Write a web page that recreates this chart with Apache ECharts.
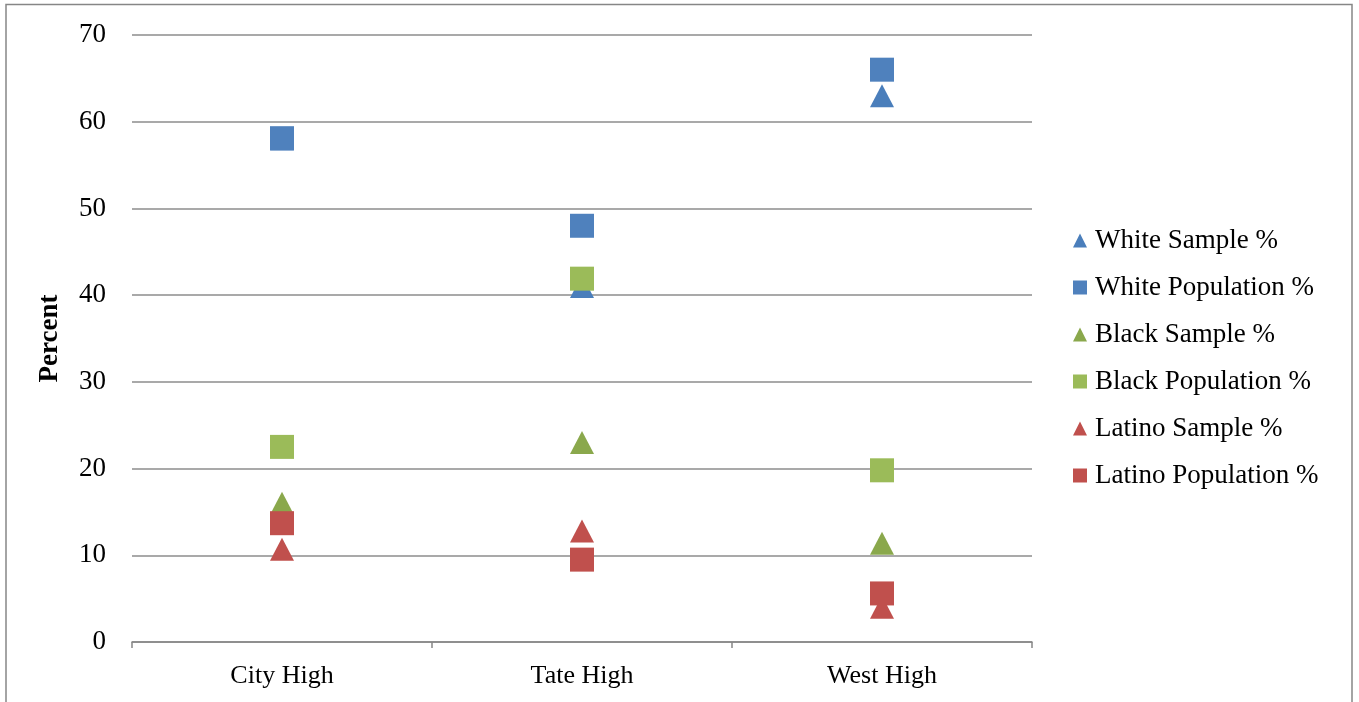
<!DOCTYPE html>
<html>
<head>
<meta charset="utf-8">
<script src="https://cdn.jsdelivr.net/npm/echarts@6/dist/echarts.min.js"></script>
<style>html,body{margin:0;padding:0;background:#fff}#c{width:1359px;height:702px}</style>
</head>
<body>
<div id="c"></div>
<script>
const categories = ['City High', 'Tate High', 'West High'];
const yTicks = [0, 10, 20, 30, 40, 50, 60, 70];
const whiteSample = [58, 41, 63];
const whitePopulation = [58.1, 48, 66];
const blackSample = [16, 23, 11.4];
const blackPopulation = [22.5, 41.9, 19.8];
const latinoSample = [10.7, 12.8, 4];
const latinoPopulation = [13.7, 9.5, 5.6];
const seriesNames = ['White Sample %', 'White Population %', 'Black Sample %', 'Black Population %', 'Latino Sample %', 'Latino Population %'];
const seriesData = [whiteSample, whitePopulation, blackSample, blackPopulation, latinoSample, latinoPopulation];
const seriesColors = ['#4A7EBB', '#4F81BD', '#8AA84C', '#9BBB59', '#C0504D', '#C0504D'];
const seriesSymbols = ['triangle', 'rect', 'triangle', 'rect', 'triangle', 'rect'];

const font = '"Liberation Serif", "Times New Roman", serif';
const chart = echarts.init(document.getElementById('c'), null, {renderer: 'canvas'});
chart.setOption({
  animation: false,
  backgroundColor: '#ffffff',
  graphic: [{
    type: 'rect', silent: true, x: 0, y: 0,
    shape: {x: 6, y: 4.5, width: 1346, height: 720},
    style: {fill: 'none', stroke: '#868686', lineWidth: 1.5}
  }],
  grid: {left: 132, right: 327, top: 35, bottom: 60},
  legend: {
    orient: 'vertical', left: 1068, top: 222,
    itemWidth: 14, itemHeight: 14, itemGap: 20,
    textStyle: {fontFamily: font, fontSize: 27, color: '#000', lineHeight: 27, padding: [0, 0, 0, 3]},
    data: seriesNames.map((n, i) => ({name: n, icon: seriesSymbols[i] === 'rect' ? 'rect' : 'triangle'}))
  },
  xAxis: {
    type: 'category', data: categories, boundaryGap: true,
    axisLine: {lineStyle: {color: '#868686', width: 1.5}},
    axisTick: {show: true, length: 6, lineStyle: {color: '#868686', width: 1.5}},
    axisLabel: {fontFamily: font, fontSize: 26, color: '#000', margin: 21},
    splitLine: {show: false}
  },
  yAxis: {
    type: 'value', min: 0, max: 70, interval: 10,
    name: 'Percent', nameLocation: 'middle', nameGap: 68,
    nameTextStyle: {fontFamily: font, fontSize: 27, fontWeight: 'bold', color: '#000'},
    axisLine: {show: false}, axisTick: {show: false},
    axisLabel: {fontFamily: font, fontSize: 27, color: '#000', margin: 26,
      formatter: v => yTicks.includes(v) ? String(v) : ''},
    splitLine: {lineStyle: {color: '#8c8c8c', width: 1.5}}
  },
  series: seriesNames.map((n, i) => ({
    name: n, type: 'scatter',
    data: seriesData[i],
    symbol: seriesSymbols[i],
    symbolSize: seriesSymbols[i] === 'rect' ? 24 : [24, 23],
    itemStyle: {color: seriesColors[i], opacity: 1},
    z: 2 + i
  }))
});
</script>
</body>
</html>
